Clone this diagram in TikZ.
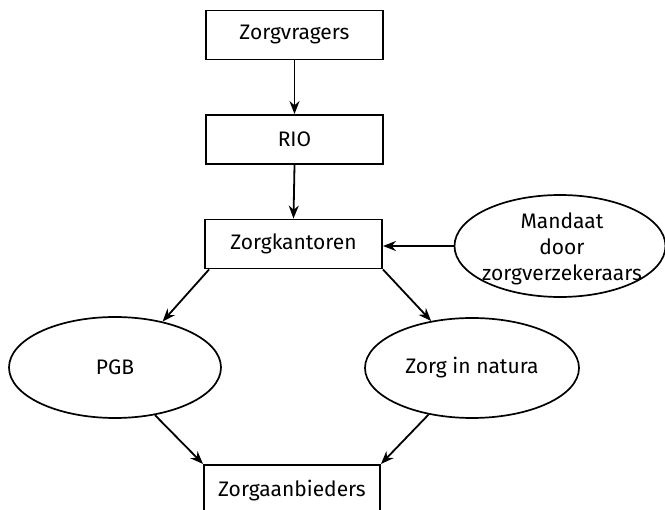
\documentclass[tikz,border=0pt]{standalone}
\usepackage{fontspec}
\setmainfont{Fira Sans}
\usetikzlibrary{shapes.geometric,arrows.meta}
\begin{document}
\begin{tikzpicture}[x=1pt,y=-1pt,
  every node/.style={font=\fontsize{21}{26}\selectfont},
  boxnode/.style={draw,line width=1.9pt,minimum width=177pt,minimum height=49pt,inner sep=0pt},
  ellnode/.style={draw,ellipse,line width=1.7pt,inner sep=0pt,align=center},
  arr/.style={line width=1.8pt,-{Stealth[length=13pt,width=10pt]}}]
\clip (0,0) rectangle (665,510);
\fill[white] (0,0) rectangle (665,510);
\node[boxnode] (zv) at (294.5,35) {Zorgvragers};
\node[boxnode] (rio) at (294.5,139.5) {RIO};
\node[boxnode] (zk) at (293.5,244) {Zorgkantoren};
\node[ellnode,minimum width=211pt,minimum height=102pt] (mand) at (560,246) {};
\node[align=center,inner sep=0pt] (mandtext) at (562,249) {Mandaat\\door\\zorgverzekeraars};
\node[ellnode,minimum width=212pt,minimum height=101pt] (pgb) at (115,367.5) {PGB};
\node[ellnode,minimum width=214pt,minimum height=100pt] (zin) at (472,368) {Zorg in natura};
\node[boxnode,minimum width=176pt,minimum height=60pt,anchor=north] (za) at (292,464) {};
\node (zatext) at (292,491) {Zorgaanbieders};
\draw[arr] (zv.south) -- (rio.north);
\draw[arr] (rio.south) -- (zk.north);
\draw[arr] (mand.west) -- (mand.west -| zk.east);
\draw[arr] ([xshift=5pt]zk.south west) -- (pgb.44);
\draw[arr] (zk.south east) -- (zin.131);
\draw[arr] (pgb.310) -- (za.north west);
\draw[arr] (zin.227) -- (za.north east);
\end{tikzpicture}
\end{document}
